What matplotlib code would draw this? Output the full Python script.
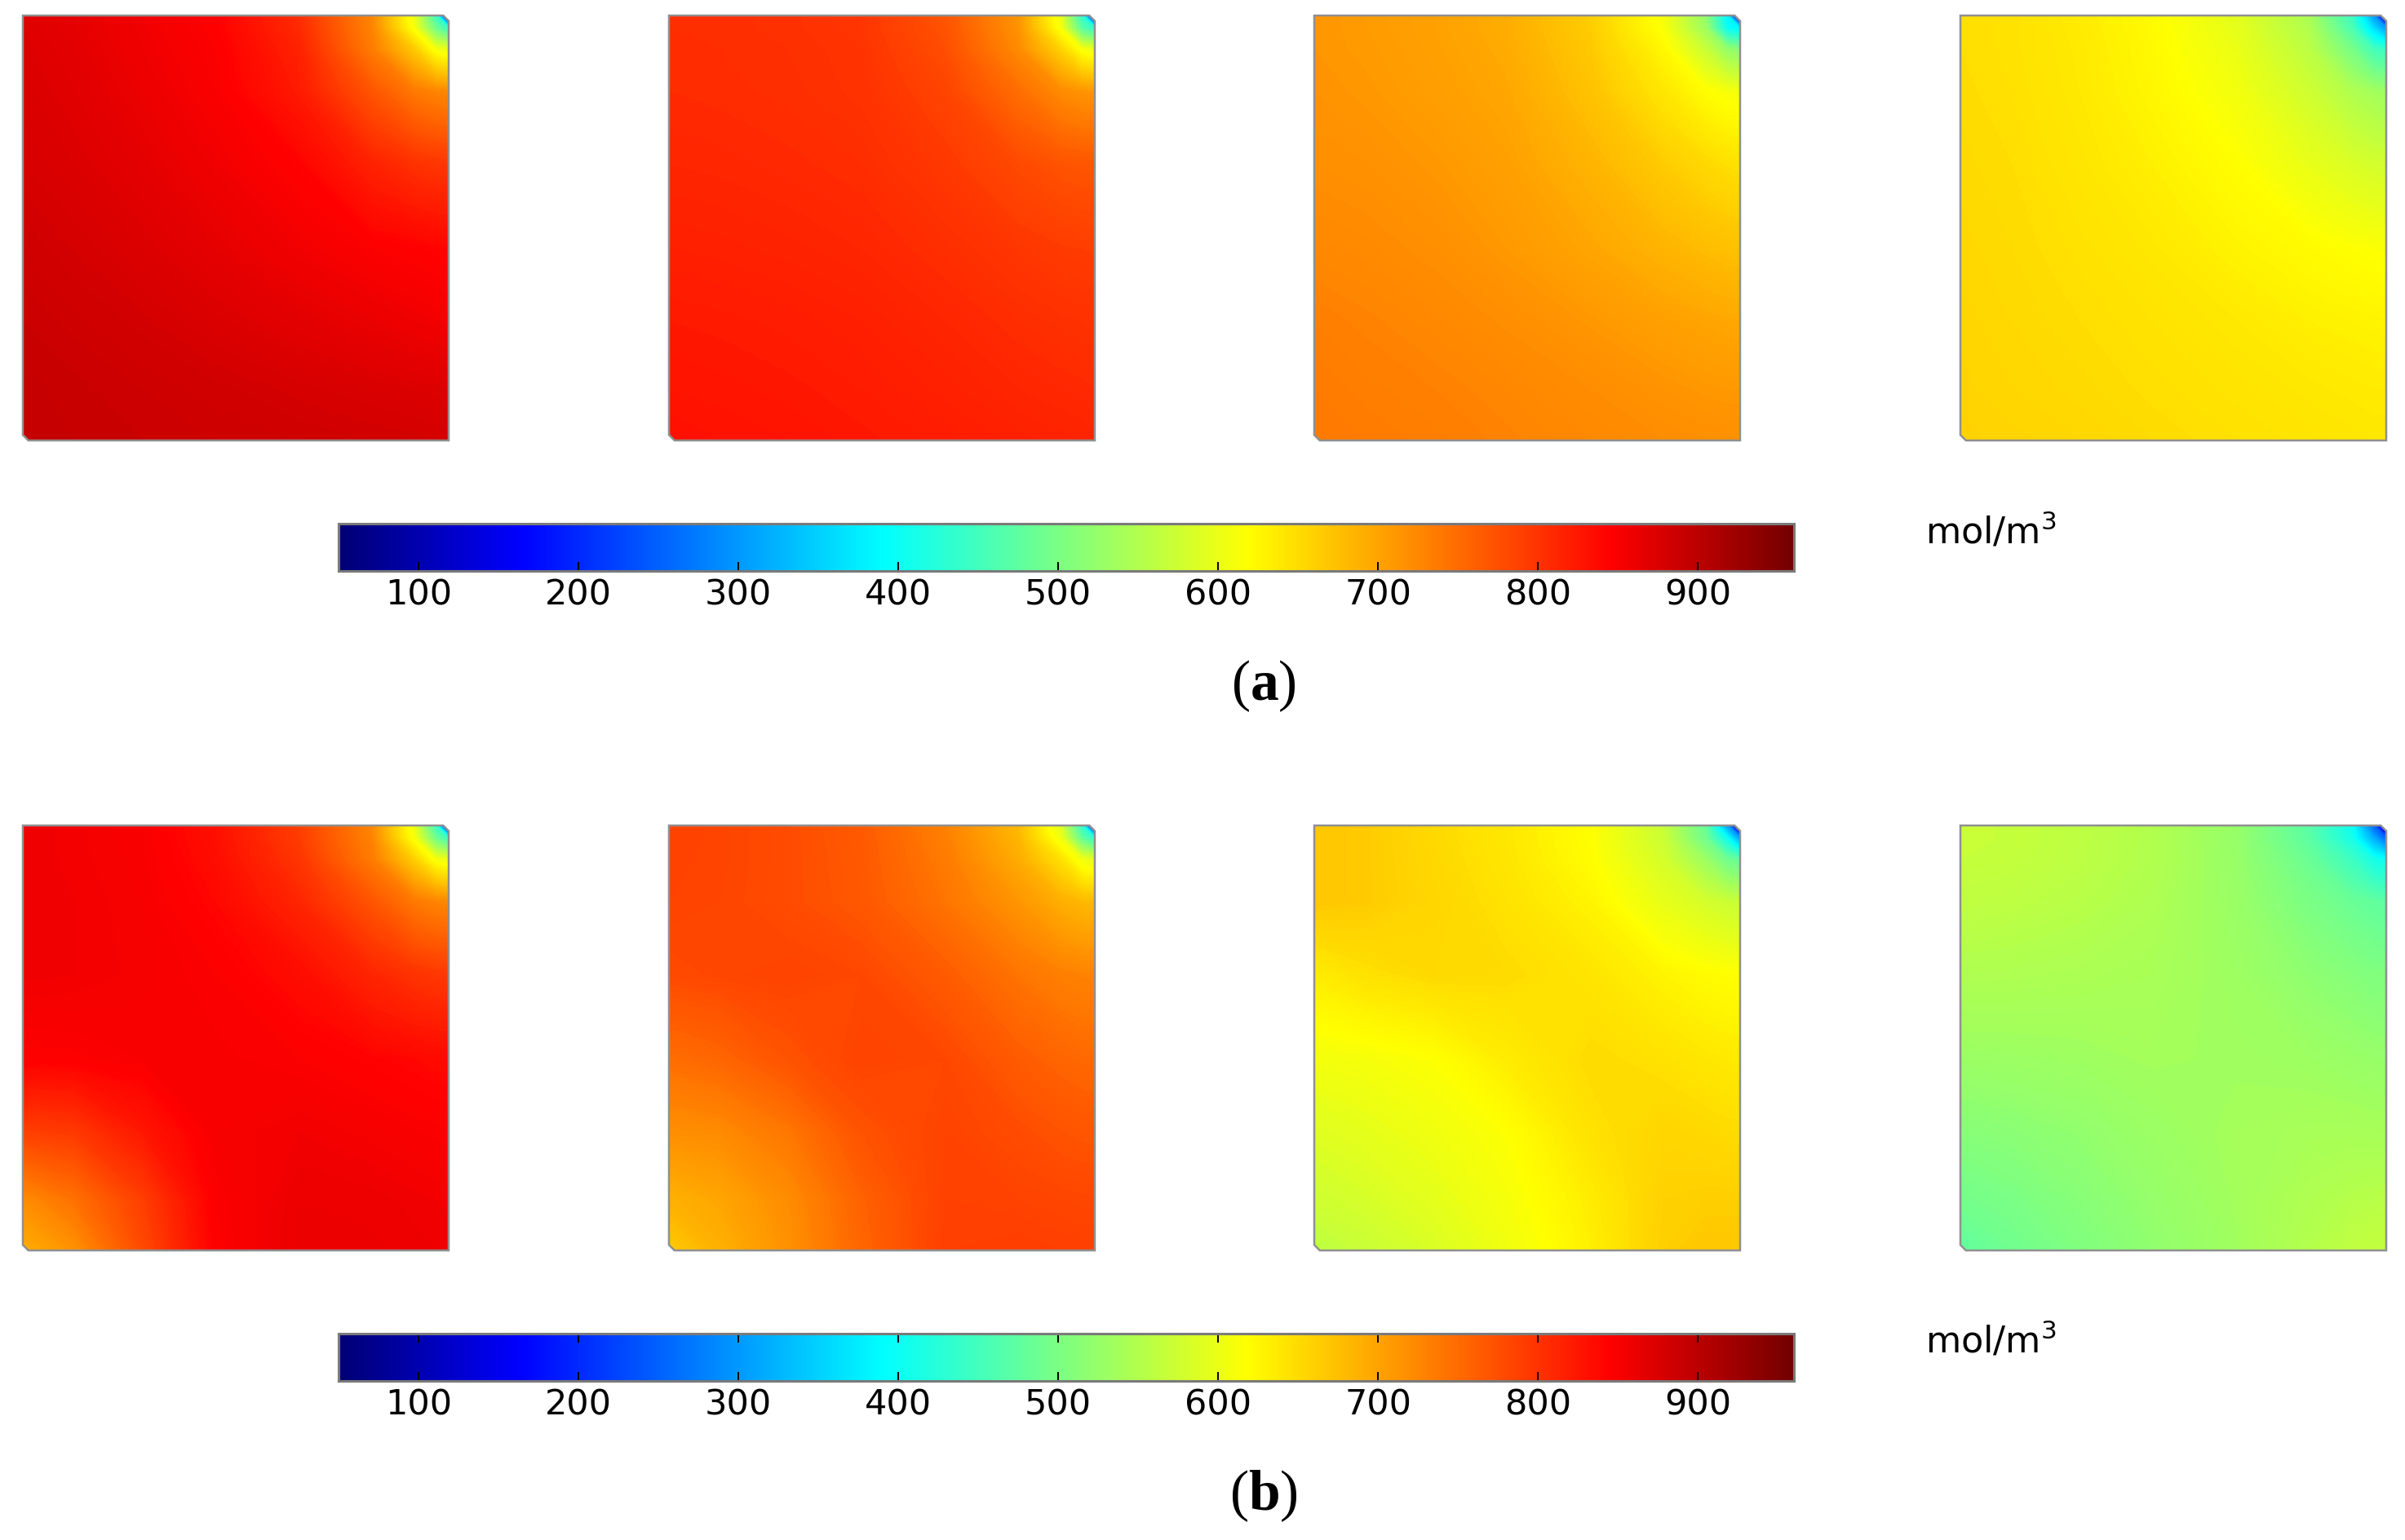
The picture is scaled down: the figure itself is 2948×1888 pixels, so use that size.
"""Concentration maps, two rows of four square panels with a shared jet scale."""
import matplotlib
matplotlib.use('Agg')
import matplotlib.pyplot as plt
import numpy as np
from matplotlib.cm import ScalarMappable
from matplotlib.colors import LinearSegmentedColormap, Normalize
from matplotlib.patches import Polygon

plt.rcParams['font.family'] = 'DejaVu Sans'
plt.rcParams['mathtext.default'] = 'regular'
plt.rcParams['mathtext.fontset'] = 'custom'
plt.rcParams['mathtext.bf'] = 'Liberation Serif:bold'

W, H = 2948, 1888

x_nodes = [0, 0.12, 0.28, 0.45, 0.65, 0.82, 0.92, 0.97, 1]
# rows of each table run from the top edge to the bottom edge
y_nodes = [1, 0.97, 0.92, 0.82, 0.65, 0.45, 0.28, 0.12, 0]

a1 = [[872, 866, 856, 846, 805, 725, 600, 440, 50],
      [872, 866, 857, 846, 808, 728, 610, 490, 440],
      [873, 868, 858, 848, 815, 735, 665, 610, 600],
      [875, 870, 861, 850, 822, 770, 738, 728, 725],
      [878, 874, 867, 857, 843, 815, 802, 798, 796],
      [884, 880, 874, 866, 856, 848, 845, 843, 842],
      [888, 885, 881, 875, 868, 862, 858, 856, 855],
      [891, 889, 886, 883, 879, 876, 874, 873, 872],
      [892, 890, 888, 886, 884, 882, 881, 880, 880]]
a2 = [[806, 805, 803, 798, 770, 712, 600, 430, 50],
      [806, 805, 803, 798, 772, 715, 612, 470, 430],
      [807, 806, 804, 800, 776, 722, 658, 612, 600],
      [808, 807, 805, 801, 785, 748, 722, 714, 712],
      [812, 811, 809, 806, 795, 780, 772, 770, 770],
      [818, 817, 815, 812, 805, 797, 793, 792, 791],
      [824, 823, 821, 818, 812, 806, 803, 802, 801],
      [828, 827, 825, 822, 817, 812, 810, 809, 808],
      [832, 830, 828, 825, 821, 817, 815, 814, 813]]
a3 = [[712, 708, 702, 692, 662, 612, 520, 380, 50],
      [712, 708, 702, 692, 663, 614, 530, 400, 380],
      [712, 709, 703, 694, 666, 625, 570, 525, 515],
      [714, 711, 705, 697, 672, 640, 620, 612, 610],
      [718, 716, 711, 703, 685, 664, 652, 647, 645],
      [725, 723, 718, 710, 698, 685, 678, 675, 674],
      [732, 729, 725, 719, 711, 703, 699, 697, 696],
      [736, 733, 730, 726, 720, 714, 711, 710, 710],
      [738, 736, 733, 729, 724, 720, 718, 717, 717]]
a4 = [[648, 645, 635, 622, 594, 542, 442, 300, 50],
      [648, 645, 636, 623, 596, 548, 458, 362, 300],
      [648, 645, 637, 624, 600, 558, 498, 452, 442],
      [649, 646, 638, 626, 607, 575, 548, 537, 532],
      [651, 648, 641, 632, 619, 598, 585, 580, 578],
      [653, 650, 645, 639, 629, 622, 618, 616, 615],
      [655, 652, 648, 644, 638, 632, 630, 629, 628],
      [657, 654, 651, 647, 643, 639, 637, 636, 636],
      [659, 657, 654, 650, 646, 643, 641, 640, 640]]
b1 = [[858, 855, 850, 832, 790, 725, 600, 440, 50],
      [858, 855, 850, 833, 792, 728, 610, 490, 440],
      [858, 855, 851, 835, 798, 735, 660, 610, 600],
      [858, 856, 852, 840, 812, 770, 738, 728, 725],
      [857, 856, 853, 848, 835, 812, 800, 796, 795],
      [846, 847, 850, 851, 848, 843, 840, 838, 838],
      [790, 795, 825, 852, 856, 853, 850, 849, 848],
      [720, 745, 790, 848, 860, 859, 857, 856, 855],
      [690, 715, 780, 846, 862, 861, 859, 858, 858]]
b2 = [[788, 785, 778, 765, 730, 680, 590, 430, 50],
      [788, 785, 778, 766, 732, 684, 605, 480, 430],
      [787, 785, 778, 767, 736, 692, 645, 605, 595],
      [786, 784, 778, 768, 742, 712, 690, 682, 680],
      [780, 783, 786, 782, 764, 742, 732, 729, 728],
      [748, 755, 772, 786, 782, 764, 756, 753, 752],
      [718, 722, 740, 772, 786, 778, 772, 770, 769],
      [688, 698, 720, 758, 788, 786, 784, 783, 783],
      [665, 688, 716, 755, 790, 792, 790, 789, 789]]
b3 = [[668, 665, 652, 640, 618, 570, 480, 300, 50],
      [668, 665, 652, 640, 618, 572, 490, 400, 300],
      [668, 665, 653, 641, 620, 580, 530, 490, 480],
      [668, 665, 655, 644, 628, 597, 580, 572, 570],
      [635, 645, 652, 650, 642, 628, 621, 619, 618],
      [608, 610, 617, 635, 650, 645, 640, 638, 637],
      [590, 596, 605, 617, 645, 655, 652, 650, 650],
      [575, 582, 595, 610, 635, 660, 662, 662, 662],
      [560, 570, 585, 605, 632, 662, 668, 668, 668]]
b4 = [[570, 567, 560, 550, 525, 470, 400, 250, 50],
      [570, 567, 560, 550, 525, 472, 410, 320, 250],
      [568, 566, 559, 550, 526, 485, 445, 410, 400],
      [562, 560, 555, 547, 528, 500, 485, 478, 475],
      [548, 547, 545, 542, 532, 518, 510, 506, 505],
      [530, 531, 533, 537, 535, 532, 528, 526, 525],
      [512, 515, 521, 530, 538, 541, 541, 540, 540],
      [493, 500, 512, 524, 537, 548, 553, 555, 555],
      [478, 490, 505, 520, 535, 552, 562, 565, 565]]

rows = [[a1, a2, a3, a4], [b1, b2, b3, b4]]
row_labels = ['a', 'b']
scale_min, scale_max = 50, 960
scale_ticks = [100, 200, 300, 400, 500, 600, 700, 800, 900]
unit_label = 'mol/m$^{3}$'

# jet with stops at eighths
cmap = LinearSegmentedColormap.from_list('comsol_rainbow', [
    (0.0, (0, 0, 0.45)), (0.125, (0, 0, 1)), (0.375, (0, 1, 1)),
    (0.625, (1, 1, 0)), (0.875, (1, 0, 0)), (1.0, (0.45, 0, 0))], N=512)
norm = Normalize(scale_min, scale_max)
levels = np.linspace(scale_min, scale_max, 456)


def px_axes(fig, left, top, right, bottom):
    return fig.add_axes([left / W, 1 - bottom / H, (right - left) / W, (bottom - top) / H])


fig = plt.figure(figsize=(W / 100, H / 100), dpi=100, facecolor='white')

panel_lefts = [28, 820, 1611, 2403]
panel_w, panel_h = 522, 521
row_offset = 993
chamfer = 0.013
outline = [(0, chamfer), (chamfer, 0), (1, 0), (1, 1 - chamfer), (1 - chamfer, 1), (0, 1)]

for r, tables in enumerate(rows):
    dy = r * row_offset
    for left, table in zip(panel_lefts, tables):
        ax = px_axes(fig, left, 19 + dy, left + panel_w, 19 + panel_h + dy)
        cs = ax.contourf(x_nodes, y_nodes, table, levels=levels, cmap=cmap, norm=norm,
                         antialiased=False)
        frame = Polygon(outline, closed=True, facecolor='none', edgecolor='#909090',
                        linewidth=1.8, clip_on=False, zorder=5)
        ax.add_patch(frame)
        cs.set_clip_path(frame)
        ax.set_xlim(0, 1)
        ax.set_ylim(0, 1)
        ax.axis('off')

    # colour scale
    cax = px_axes(fig, 415, 642 + dy, 2199, 700 + dy)
    cbar = fig.colorbar(ScalarMappable(norm=norm, cmap=cmap), cax=cax, orientation='horizontal',
                        ticks=scale_ticks)
    cbar.solids.set_edgecolor('face')
    cbar.outline.set_edgecolor('#7a7a7a')
    cbar.outline.set_linewidth(2.2)
    cax.tick_params(axis='x', which='major', direction='in', top=True, bottom=True,
                    length=8, width=1.4, color='black', labelsize=31, pad=6)
    cax.minorticks_off()

    fig.text(2360 / W, 1 - (666 + dy) / H, unit_label, fontsize=32, ha='left', va='baseline')
    fig.text(1549 / W, 1 - (858 + dy) / H, rf'($\mathbf{{{row_labels[r]}}}$)', fontsize=50,
             family='Liberation Serif', ha='center', va='baseline')

fig.savefig('out.png', dpi=100)
plt.close(fig)
